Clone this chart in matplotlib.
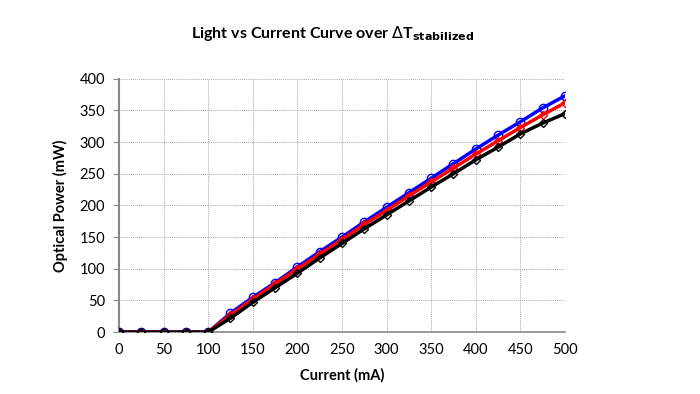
import numpy as np
import matplotlib.pyplot as plt

plt.rcParams['font.family'] = ['Lato', 'DejaVu Sans']

# current (mA) and optical power (mW) for the three curves
current = [0, 25, 50, 75, 100, 125, 150, 175, 200, 225, 250, 275, 300,
           325, 350, 375, 400, 425, 450, 475, 500]
power_blue = [0, 0, 0, 0, 0, 30, 55, 78, 103, 127, 150, 174, 197,
              220, 243, 266, 289, 311, 332, 354, 373]
power_red = [0, 0, 0, 0, 0, 27, 52, 76, 100, 123, 146, 170, 192,
             215, 237, 259, 281, 302, 323, 343, 362]
power_black = [0, 0, 0, 0, 0, 22, 47, 70, 93, 117, 140, 163, 185,
               207, 229, 250, 272, 292, 313, 330, 345]

fig = plt.figure(figsize=(7, 3.94), dpi=100)
ax = fig.add_axes([0.170, 0.157, 0.637, 0.643])

ax.plot(current, power_blue, color='blue', lw=2.5, marker='o', ms=6,
        mfc='none', mec='blue', mew=1, zorder=3)
ax.plot(current, power_red, color='red', lw=2.5, marker='D', ms=4,
        mfc='none', mec='red', mew=1, zorder=4)
ax.plot(current, power_black, color='black', lw=2.5, marker='D', ms=4,
        mfc='none', mec='black', mew=1, zorder=5)

ax.set_xlim(0, 500)
ax.set_ylim(0, 400)
ax.set_xticks(np.arange(0, 501, 50))
ax.set_yticks(np.arange(0, 401, 50))
ax.grid(True, color='#aaaaaa', ls=(0, (1, 1)), lw=0.7)
for s in ['top', 'right']:
    ax.spines[s].set_visible(False)
ax.spines['left'].set_color('#888888')
ax.spines['left'].set_linewidth(1.5)
ax.spines['bottom'].set_color('#888888')
ax.spines['bottom'].set_linewidth(1.2)
ax.tick_params(axis='y', length=4, color='#888888', labelsize=10.5, pad=6)
ax.tick_params(axis='x', length=0, labelsize=10.5, pad=8)

ax.set_xlabel('Current (mA)', fontsize=10.5, fontweight='bold', labelpad=8)
ax.set_ylabel('Optical Power (mW)', fontsize=10.5, fontweight='bold', labelpad=8)
fig.suptitle(r'Light vs Current Curve over $\Delta$T$_{\mathbf{stabilized}}$',
             x=0.475, y=0.94, fontsize=11.5, fontweight='bold')

fig.savefig('out.png')
